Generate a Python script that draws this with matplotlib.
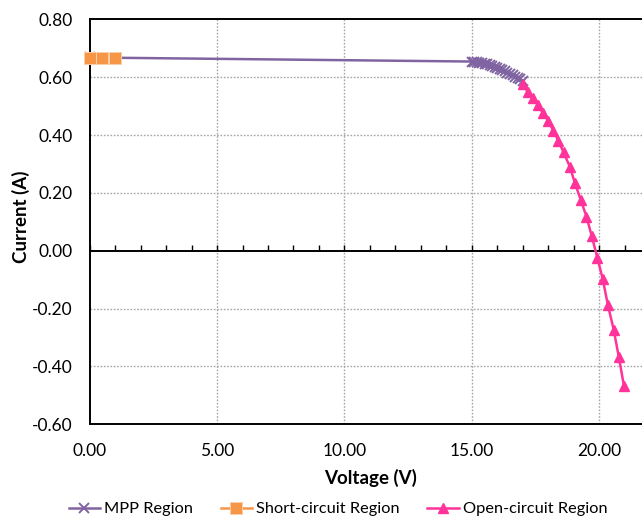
import matplotlib
matplotlib.use("Agg")
import matplotlib.pyplot as plt

plt.rcParams['font.family'] = ['Lato', 'DejaVu Sans']

# MPP region (purple, x markers)
mpp_v = [0.0, 15.0, 15.1, 15.2, 15.3, 15.4, 15.5, 15.6, 15.7, 15.8, 15.9, 16.0,
         16.1, 16.2, 16.3, 16.4, 16.5, 16.6, 16.7, 16.8, 16.9, 17.0]
mpp_i = [0.668, 0.654, 0.653, 0.652, 0.650, 0.648, 0.646, 0.644, 0.641, 0.638, 0.635,
         0.632, 0.628, 0.624, 0.620, 0.616, 0.612, 0.607, 0.602, 0.597, 0.592, 0.587]

# Short-circuit region (orange squares)
sc_v = [0.0, 0.5, 1.0]
sc_i = [0.665, 0.665, 0.665]

# Open-circuit region (pink triangles)
oc_v = [17.0, 17.2, 17.4, 17.6, 17.8, 18.0, 18.2, 18.4, 18.6, 18.85, 19.05, 19.28,
        19.5, 19.71, 19.93, 20.14, 20.34, 20.57, 20.77, 20.97]
oc_i = [0.576, 0.548, 0.528, 0.503, 0.475, 0.449, 0.415, 0.380, 0.340, 0.290, 0.233,
        0.175, 0.118, 0.050, -0.025, -0.098, -0.187, -0.273, -0.367, -0.466]

x_ticks = [0, 5, 10, 15, 20]
x_labels = ['0.00', '5.00', '10.00', '15.00', '20.00']
x_grid = [5, 10, 15, 20, 25]
y_ticks = [-0.6, -0.4, -0.2, 0.0, 0.2, 0.4, 0.6, 0.8]
y_labels = ['-0.60', '-0.40', '-0.20', '0.00', '0.20', '0.40', '0.60', '0.80']
y_grid = [-0.4, -0.2, 0.2, 0.4, 0.6]
minor_x = list(range(0, 26))

purple = '#8064A2'
orange = '#F79646'
pink = '#FF3399'

fig = plt.figure(figsize=(6.42, 5.19), dpi=100)
ax = fig.add_axes([0.1397, 0.1825, 0.992, 0.7803])
ax.set_xlim(0, 25)
ax.set_ylim(-0.6, 0.8)

# grid
for xv in x_grid:
    ax.axvline(xv, color='#A6A6A6', lw=1.0, ls=(0, (1.2, 1.2)), zorder=0)
for yv in y_grid:
    ax.axhline(yv, color='#A6A6A6', lw=1.0, ls=(0, (1.2, 1.2)), zorder=0)

ax.axhline(0.0, color='black', lw=1.4, zorder=1)
sec = ax.secondary_xaxis(0.0, transform=ax.transData)
sec.set_xticks(minor_x)
sec.tick_params(direction='in', length=4, width=1, labelbottom=False, labeltop=False, color='black')
for s in sec.spines.values():
    s.set_visible(False)

ax.plot(mpp_v, mpp_i, color=purple, lw=1.8, marker='x', ms=7.5, mew=1.4, zorder=3,
        label='MPP Region', clip_on=False)
ax.plot(sc_v, sc_i, color=orange, lw=1.8, marker='s', ms=8.4, mec='#FBD0A8', mew=0.7,
        zorder=4, label='Short-circuit Region', clip_on=False)
ax.plot(oc_v, oc_i, color=pink, lw=1.8, marker='^', ms=7.8, zorder=3,
        label='Open-circuit Region', clip_on=False)

ax.set_xticks(x_ticks)
ax.set_xticklabels(x_labels)
ax.set_yticks(y_ticks)
ax.set_yticklabels(y_labels)
ax.tick_params(axis='both', length=0, labelsize=12.5, colors='black')
ax.tick_params(axis='x', pad=13.5)
ax.tick_params(axis='y', pad=12.5)

for side in ('left', 'top', 'bottom'):
    ax.spines[side].set_linewidth(1.4)
    ax.spines[side].set_color('black')
ax.spines['right'].set_visible(False)

ax.set_xlabel('Voltage (V)', fontsize=13.5, fontweight='bold')
ax.xaxis.label.set_va('center')
ax.xaxis.set_label_coords(0.4417, -0.1326)
ax.set_ylabel('Current (A)', fontsize=13.5, fontweight='bold')
ax.yaxis.label.set_va('center')
ax.yaxis.set_label_coords(-0.108, 0.512)

handles, labels = ax.get_legend_handles_labels()
fig.legend(handles, labels, loc='center', bbox_to_anchor=(338 / 642, 1 - 509 / 519),
           ncol=3, frameon=False, fontsize=11.8, handlelength=1.9, handletextpad=0.25,
           columnspacing=1.7, borderaxespad=0)

fig.savefig('out.png', dpi=100)
